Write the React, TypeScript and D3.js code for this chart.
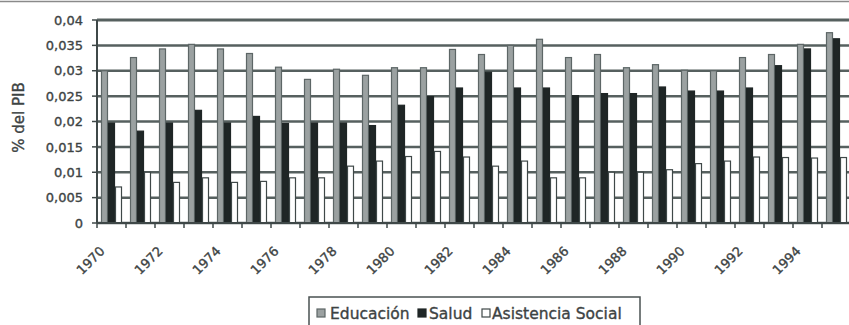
import * as d3 from "d3";
import { useEffect, useRef } from "react";

const years = ["1970", "1971", "1972", "1973", "1974", "1975", "1976", "1977", "1978", "1979", "1980", "1981", "1982",
  "1983", "1984", "1985", "1986", "1987", "1988", "1989", "1990", "1991", "1992", "1993", "1994", "1995"];
const educacion = [0.030, 0.0326, 0.0343, 0.0352, 0.0343, 0.0334, 0.0307, 0.0283, 0.0303, 0.0291, 0.0306, 0.0306, 0.0342,
  0.0332, 0.035, 0.0362, 0.0326, 0.0332, 0.0306, 0.0312, 0.0301, 0.030, 0.0326, 0.0332, 0.0352, 0.0375];
const salud = [0.0197, 0.0181, 0.0197, 0.0222, 0.0197, 0.021, 0.0196, 0.0197, 0.0197, 0.0192, 0.0232, 0.0249, 0.0266,
  0.0297, 0.0266, 0.0266, 0.0251, 0.0255, 0.0255, 0.0268, 0.026, 0.026, 0.0266, 0.031, 0.0343, 0.0363];
const asistencia = [0.0071, 0.010, 0.008, 0.0089, 0.008, 0.0082, 0.0089, 0.0089, 0.0112, 0.0122, 0.0131, 0.0141, 0.013,
  0.0112, 0.0122, 0.0089, 0.0089, 0.010, 0.010, 0.0105, 0.0117, 0.0122, 0.013, 0.0129, 0.0128, 0.0129];
const seriesNames = ["Educación", "Salud", "Asistencia Social"];
const yTicks = [0, 0.005, 0.01, 0.015, 0.02, 0.025, 0.03, 0.035, 0.04];

const FONT = "'DejaVu Sans', sans-serif";
const GRID = "#56605f";
const TEXT = "#3d4343";

const App = () => {
  const ref: any = useRef();

  useEffect(() => {
    const svg = d3.select(ref.current);
    svg.selectAll("*").remove();

    const width = 849, height = 325;
    const margin = { top: 20, right: -2, bottom: 102, left: 97 };
    const innerH = height - margin.top - margin.bottom;

    svg.append("rect").attr("width", width).attr("height", height).attr("fill", "#fff");
    // outer chart frame, only its top edge is visible
    svg.append("line").attr("x1", 0).attr("x2", width).attr("y1", 1.5).attr("y2", 1.5)
      .attr("stroke", "#8a8a8a").attr("stroke-width", 1.5);

    const x0 = d3.scaleBand().domain(years).range([margin.left, width - margin.right]);
    const x1 = d3.scaleBand().domain(seriesNames).range([4, x0.bandwidth() - 4]);
    const y = d3.scaleLinear().domain([0, 0.04]).range([margin.top + innerH, margin.top]);

    const fmt = d3.formatLocale({ decimal: ",", thousands: ".", grouping: [3], currency: ["", "€"] }).format(".3~f");

    // gridlines
    svg.append("g").selectAll("line").data(yTicks).join("line")
      .attr("x1", margin.left).attr("x2", width)
      .attr("y1", (d) => y(d)).attr("y2", (d) => y(d))
      .attr("stroke", GRID).attr("stroke-width", (d) => (d === 0.04 ? 3 : 2.5));

    // bars
    const values = [educacion, salud, asistencia];
    const fills = ["#9ba1a1", "#1f2626", "#ffffff"];
    const strokes = ["#5d6666", "#1f2626", "#3f4848"];
    values.forEach((vals, s) => {
      svg.append("g").selectAll("rect").data(vals).join("rect")
        .attr("x", (_d, i) => (x0(years[i]) as number) + (x1(seriesNames[s]) as number) + 0.5)
        .attr("y", (d) => y(d))
        .attr("width", x1.bandwidth() - 1)
        .attr("height", (d) => y(0) - y(d))
        .attr("fill", fills[s]).attr("stroke", strokes[s]).attr("stroke-width", 1.2);
    });

    // axes
    svg.append("line").attr("x1", margin.left).attr("x2", margin.left)
      .attr("y1", y(0.04)).attr("y2", y(0)).attr("stroke", "#3f4848").attr("stroke-width", 2);
    svg.append("line").attr("x1", margin.left).attr("x2", width)
      .attr("y1", y(0)).attr("y2", y(0)).attr("stroke", "#3f4848").attr("stroke-width", 2);

    svg.append("g").selectAll("line").data(yTicks).join("line")
      .attr("x1", margin.left - 5).attr("x2", margin.left)
      .attr("y1", (d) => y(d)).attr("y2", (d) => y(d))
      .attr("stroke", "#3f4848").attr("stroke-width", 1.5);

    svg.append("g").selectAll("text").data(yTicks).join("text")
      .attr("x", 83).attr("y", (d) => y(d)).attr("dy", "0.36em")
      .attr("text-anchor", "end").attr("font-family", FONT).attr("font-size", 13)
      .attr("fill", TEXT).attr("stroke", TEXT).attr("stroke-width", 0.35).text((d) => fmt(d));

    svg.append("g").selectAll("line").data(years).join("line")
      .attr("x1", (d) => x0(d) as number).attr("x2", (d) => x0(d) as number)
      .attr("y1", y(0)).attr("y2", y(0) + 5)
      .attr("stroke", "#3f4848").attr("stroke-width", 1.5);

    svg.append("g").selectAll("text").data(years.filter((_d, i) => i % 2 === 0)).join("text")
      .attr("transform", (d) => `translate(${(x0(d) as number) + x0.bandwidth() / 2 - 6}, ${y(0) + 29}) rotate(-45)`)
      .attr("text-anchor", "end").attr("font-family", FONT).attr("font-size", 13)
      .attr("fill", TEXT).attr("stroke", TEXT).attr("stroke-width", 0.35).text((d) => d);

    // y axis title
    svg.append("text")
      .attr("transform", `translate(24, ${margin.top + innerH / 2 - 4}) rotate(-90)`)
      .attr("text-anchor", "middle").attr("font-family", FONT).attr("font-size", 15)
      .attr("fill", TEXT).attr("stroke", TEXT).attr("stroke-width", 0.35).text("% del PIB");

    // legend
    const lg = svg.append("g");
    lg.append("rect").attr("x", 309).attr("y", 297).attr("width", 331).attr("height", 40)
      .attr("fill", "#fff").attr("stroke", "#4a5252").attr("stroke-width", 1.5);
    const items = [
      { name: seriesNames[0], sx: 317, tx: 330 },
      { name: seriesNames[1], sx: 418, tx: 429 },
      { name: seriesNames[2], sx: 482, tx: 492 },
    ];
    items.forEach((it, s) => {
      lg.append("rect").attr("x", it.sx).attr("y", 309).attr("width", 8).attr("height", 8)
        .attr("fill", fills[s]).attr("stroke", strokes[s]).attr("stroke-width", 1.2);
      lg.append("text").attr("x", it.tx).attr("y", 319).attr("font-family", FONT).attr("font-size", 15.5)
        .attr("fill", TEXT).attr("stroke", TEXT).attr("stroke-width", 0.35).text(it.name);
    });
  }, []);

  return (
    <svg ref={ref} width={849} height={325} style={{ position: "absolute", left: 0, top: 0 }} />
  );
};

export default App;
